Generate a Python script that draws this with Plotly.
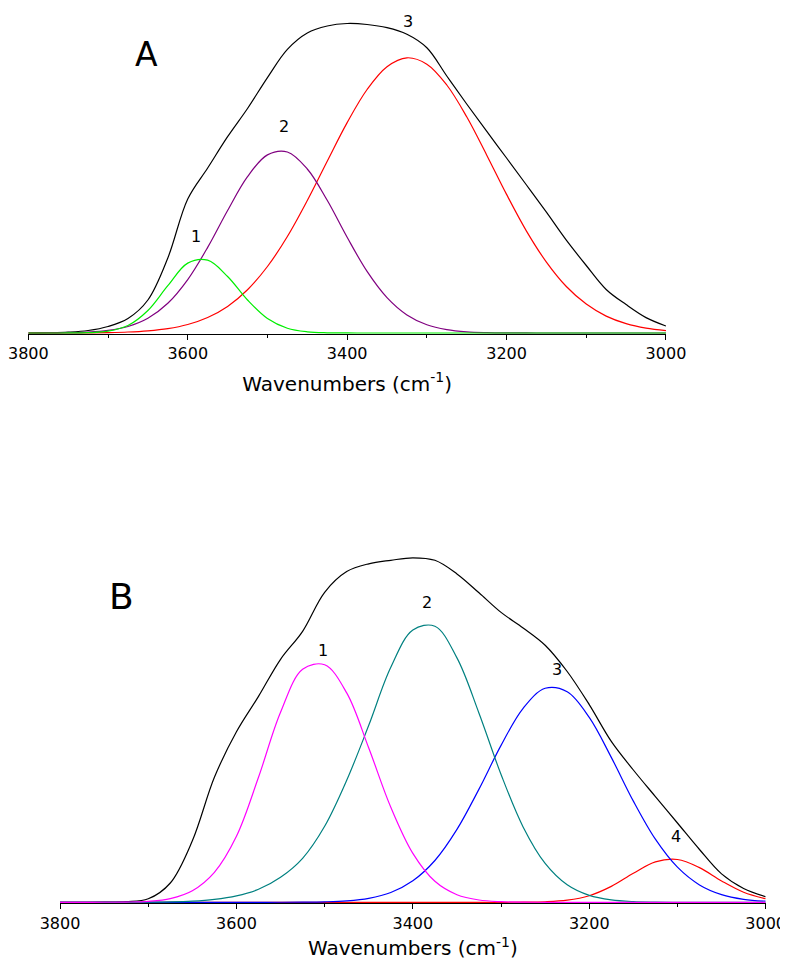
import plotly.graph_objects as go

# ---------------- data ----------------
wavenumbers = [3800, 3775, 3750, 3725, 3700, 3675, 3650, 3625, 3600, 3575, 3550,
               3525, 3500, 3475, 3450, 3425, 3400, 3375, 3350, 3325, 3300, 3275,
               3250, 3225, 3200, 3175, 3150, 3125, 3100, 3075, 3050, 3025, 3000]

# Panel A (arbitrary absorbance units)
A_total = [0.0, 0.3, 0.9, 2.5, 6.5, 14.5, 33.0, 75.0, 134.0, 165.0, 196.3,
           224.5, 255.4, 283.6, 300.0, 307.0, 309.5, 308.5, 305.3, 298.7, 285.2, 257.0,
           229.0, 201.8, 175.0, 148.0, 120.8, 92.8, 67.5, 43.5, 28.4, 15.4, 7.0]
A_band1 = [0.0, 0.0, 0.03, 0.3, 1.8, 7.5, 22.5, 47.3, 69.9, 72.8, 56.5,
           33.0, 14.5, 4.8, 1.2, 0.2, 0.03, 0.0, 0.0, 0.0, 0.0, 0.0,
           0.0, 0.0, 0.0, 0.0, 0.0, 0.0, 0.0, 0.0, 0.0, 0.0, 0.0]
A_band2 = [0.02, 0.08, 0.3, 0.9, 2.6, 6.5, 14.7, 29.7, 53.4, 85.6, 122.5,
           156.4, 178.1, 181.0, 164.0, 132.7, 95.7, 61.6, 35.4, 18.1, 8.3, 3.4,
           1.2, 0.4, 0.1, 0.03, 0.0, 0.0, 0.0, 0.0, 0.0, 0.0, 0.0]
A_band3 = [0.01, 0.03, 0.07, 0.18, 0.44, 1.0, 2.2, 4.4, 8.5, 15.5, 26.6,
           43.3, 66.5, 96.5, 132.5, 171.8, 210.4, 243.5, 266.3, 275.2, 268.8, 248.0,
           216.2, 178.1, 138.6, 101.9, 70.9, 46.5, 28.9, 16.9, 9.4, 4.9, 2.4]

# Panel B
B_total = [0.0, 0.0, 0.1, 0.6, 3.5, 19.3, 61.5, 125.0, 170.5, 205.9, 243.0,
           271.0, 310.0, 330.7, 338.5, 342.0, 344.5, 342.0, 328.4, 309.5, 289.9, 274.4,
           257.1, 230.8, 197.7, 160.9, 132.3, 105.7, 79.3, 52.8, 28.4, 13.8, 5.6]
B_band1 = [0.0, 0.01, 0.04, 0.23, 1.0, 3.75, 11.6, 30.0, 66.0, 125.0, 190.0,
           233.0, 237.5, 209.4, 154.3, 95.0, 48.9, 21.0, 7.6, 2.3, 0.6, 0.1,
           0.02, 0.0, 0.0, 0.0, 0.0, 0.0, 0.0, 0.0, 0.0, 0.0, 0.0]
B_band2 = [0.0, 0.0, 0.0, 0.0, 0.1, 0.4, 1.2, 3.0, 6.5, 13.0, 25.0,
           44.0, 76.0, 122.0, 177.0, 235.0, 272.3, 276.0, 244.4, 189.1, 127.8, 75.4,
           38.9, 17.5, 6.9, 2.4, 0.7, 0.2, 0.04, 0.0, 0.0, 0.0, 0.0]
B_band3 = [0.0, 0.0, 0.0, 0.0, 0.0, 0.0, 0.0, 0.0, 0.0, 0.0, 0.04,
           0.14, 0.47, 1.45, 4.0, 9.8, 21.5, 41.8, 72.9, 113.2, 156.9, 194.0,
           214.0, 210.6, 184.9, 144.9, 101.2, 63.1, 35.1, 17.4, 7.7, 3.0, 1.1]
B_band4 = [0.0, 0.0, 0.0, 0.0, 0.0, 0.0, 0.0, 0.0, 0.0, 0.0, 0.0,
           0.0, 0.0, 0.0, 0.0, 0.0, 0.0, 0.0, 0.0, 0.0, 0.01, 0.1,
           0.5, 2.1, 6.6, 15.9, 29.0, 40.4, 42.8, 34.7, 21.4, 10.1, 3.6]

tick_values = [3800, 3600, 3400, 3200, 3000]
tick_labels = ["3800", "3600", "3400", "3200", "3000"]

# ---------------- figure ----------------
# the page body has an 8px margin, so the figure is 8px smaller than the window
OFF = 8
W, H = 788 - OFF, 960 - OFF
FONT = "DejaVu Sans, Arial, sans-serif"

def px_x(p):   # page pixel -> paper x
    return (p - OFF) / W

def px_y(p):   # page pixel (from top) -> paper y
    return 1 - (p - OFF) / H

fig = go.Figure()

def line(x, y, color, xa, ya):
    fig.add_trace(go.Scatter(x=x, y=y, mode="lines", xaxis=xa, yaxis=ya,
                             line=dict(color=color, width=1.2, shape="spline"),
                             hoverinfo="skip", showlegend=False))

# Panel A
line(wavenumbers, A_total, "#000000", "x", "y")
line(wavenumbers, A_band3, "#ff0000", "x", "y")
line(wavenumbers, A_band2, "#800080", "x", "y")
line(wavenumbers, A_band1, "#00ee00", "x", "y")

# Panel B
line(wavenumbers, B_total, "#000000", "x2", "y2")
line(wavenumbers, B_band4, "#ff0000", "x2", "y2")
line(wavenumbers, B_band3, "#0000ff", "x2", "y2")
line(wavenumbers, B_band2, "#008080", "x2", "y2")
line(wavenumbers, B_band1, "#ff00ff", "x2", "y2")

def xaxis_style(domain, anchor):
    return dict(domain=domain, anchor=anchor, range=[3800.05, 2999.95],
                showgrid=False, zeroline=False, showline=True,
                linecolor="#000000", linewidth=1.2, mirror=False,
                ticks="outside", ticklen=5, tickwidth=1.2, tickcolor="#000000",
                tickvals=tick_values, ticktext=tick_labels,
                tickfont=dict(family=FONT, size=16, color="#000000"),
                ticklabelstandoff=0, ticklabeloverflow="allow",
                minor=dict(ticks="outside", dtick=100, tick0=3000, ticklen=3,
                           tickwidth=1.2, tickcolor="#000000", showgrid=False),
                title=dict(text="Wavenumbers (cm<sup>-1</sup>)",
                           font=dict(family=FONT, size=20, color="#000000"),
                           standoff=14),
                automargin=False, fixedrange=True)

def yaxis_style(domain, rng, anchor):
    return dict(domain=domain, anchor=anchor, range=rng, visible=False,
                showgrid=False, zeroline=False, fixedrange=True)

fig.update_layout(
    width=W, height=H,
    margin=dict(l=0, r=0, t=0, b=0),
    paper_bgcolor="#ffffff", plot_bgcolor="#ffffff",
    showlegend=False,
    xaxis=xaxis_style([px_x(28.3), px_x(666)], "y"),
    yaxis=yaxis_style([px_y(334), px_y(13)], [-1, 320], "x"),
    xaxis2=xaxis_style([px_x(60), px_x(765.7)], "y2"),
    yaxis2=yaxis_style([px_y(903.3), px_y(540)], [-1, 362.3], "x2"),
)

def label(text, x, y, xref, yref, size):
    fig.add_annotation(text=text, x=x, y=y, xref=xref, yref=yref, showarrow=False,
                       xanchor="center", yanchor="middle",
                       font=dict(family=FONT, size=size, color="#000000"))

# Peak numbers
label("1", 3590, 96, "x", "y", 16)
label("2", 3479, 206, "x", "y", 16)
label("3", 3324, 311, "x", "y", 16)
label("1", 3502, 252, "x2", "y2", 16)
label("2", 3384, 300, "x2", "y2", 16)
label("3", 3237, 233, "x2", "y2", 16)
label("4", 3102, 66, "x2", "y2", 16)

# Panel letters
label("A", px_x(146.7), px_y(54.3), "paper", "paper", 33)
label("B", px_x(121), px_y(596.7), "paper", "paper", 36)

fig.write_html("out.html")
